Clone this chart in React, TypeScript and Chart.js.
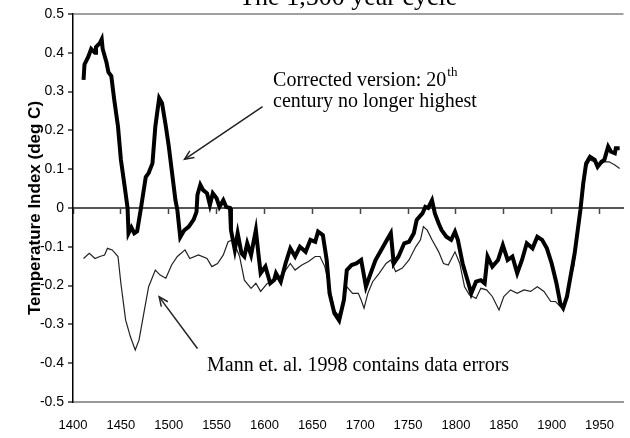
import React, { useEffect, useRef } from "react";
import { Chart, registerables } from "chart.js";

Chart.register(...registerables);

const TITLE = "The 1,500 year cycle";
const Y_TITLE = "Temperature Index (deg C)";
const X_MIN = 1400;
const X_MAX = 1975;
const Y_MIN = -0.5;
const Y_MAX = 0.5;

// Corrected version (thick line)
const correctedYears = [
  1411, 1412, 1416, 1419, 1423, 1424, 1428, 1430, 1431, 1435, 1437, 1440, 1443, 1447, 1450, 1454, 1457,
  1458, 1461, 1464, 1467, 1469, 1471, 1476, 1479, 1483, 1486, 1490, 1493, 1497, 1500, 1503, 1507, 1509,
  1512, 1516, 1521, 1526, 1529, 1530, 1533, 1536, 1540, 1543, 1546, 1550, 1553, 1557, 1560, 1564, 1565,
  1569, 1572, 1576, 1579, 1582, 1586, 1591, 1594, 1596, 1601, 1606, 1610, 1612, 1617, 1622, 1627, 1632,
  1637, 1643, 1648, 1653, 1656, 1661, 1665, 1668, 1673, 1678, 1683, 1686, 1691, 1696, 1701, 1706, 1711,
  1716, 1722, 1728, 1732, 1735, 1740, 1746, 1751, 1756, 1759, 1765, 1768, 1771, 1775, 1778, 1782, 1785,
  1790, 1795, 1799, 1802, 1807, 1813, 1816, 1821, 1826, 1830, 1833, 1838, 1844, 1849, 1854, 1859, 1864,
  1869, 1874, 1880, 1885, 1890, 1895, 1900, 1905, 1909, 1912, 1916, 1919, 1924, 1930, 1933, 1936, 1940,
  1945, 1948, 1952, 1955, 1959, 1962, 1966, 1967, 1971,
];
const correctedValues = [
  0.33, 0.37, 0.39, 0.41, 0.4, 0.415, 0.425, 0.435, 0.41, 0.375, 0.35, 0.34, 0.28, 0.21, 0.125, 0.055, 0.0,
  -0.065, -0.05, -0.065, -0.06, -0.03, 0.0, 0.08, 0.09, 0.115, 0.21, 0.283, 0.27, 0.21, 0.16, 0.1, 0.02, -0.005,
  -0.075, -0.058, -0.048, -0.03, -0.01, 0.034, 0.06, 0.046, 0.038, 0.008, 0.038, 0.025, 0.003, 0.02, 0.003, 0.0, -0.057,
  -0.108, -0.065, -0.117, -0.125, -0.091, -0.121, -0.057, -0.125, -0.168, -0.151, -0.194, -0.186, -0.168, -0.19, -0.143, -0.104, -0.125,
  -0.1, -0.113, -0.082, -0.087, -0.061, -0.07, -0.134, -0.22, -0.271, -0.29, -0.237, -0.16, -0.147, -0.143, -0.134, -0.203, -0.168,
  -0.134, -0.108, -0.082, -0.065, -0.143, -0.125, -0.091, -0.087, -0.065, -0.031, -0.014, 0.003, 0.0, 0.02, -0.014, -0.04, -0.057,
  -0.074, -0.082, -0.061, -0.082, -0.143, -0.194, -0.22, -0.19, -0.186, -0.194, -0.125, -0.151, -0.134, -0.096, -0.134, -0.125, -0.168,
  -0.134, -0.091, -0.104, -0.074, -0.082, -0.104, -0.143, -0.194, -0.246, -0.258, -0.228, -0.186, -0.117, -0.005, 0.064, 0.115, 0.132,
  0.124, 0.106, 0.119, 0.124, 0.158, 0.145, 0.141, 0.154, 0.154,
];

// Mann et. al. 1998 (thin line)
const mannYears = [
  1411, 1417, 1423, 1428, 1433, 1436, 1441, 1447, 1450, 1455, 1460, 1465, 1469, 1474, 1479, 1486, 1491,
  1497, 1503, 1509, 1517, 1522, 1531, 1540, 1545, 1551, 1557, 1562, 1567, 1574, 1579, 1586, 1591, 1596,
  1603, 1607, 1613, 1620, 1627, 1632, 1639, 1646, 1653, 1658, 1663, 1668, 1673, 1677, 1681, 1686, 1692,
  1698, 1701, 1704, 1708, 1713, 1720, 1727, 1732, 1737, 1744, 1751, 1758, 1763, 1766, 1770, 1775, 1782,
  1787, 1792, 1799, 1804, 1809, 1814, 1821, 1826, 1832, 1838, 1845, 1850, 1857, 1864, 1871, 1878, 1885,
  1892, 1899, 1904, 1909, 1912, 1917, 1923, 1928, 1933, 1936, 1940, 1945, 1950, 1955, 1960, 1966, 1971,
];
const mannValues = [
  -0.13, -0.117, -0.13, -0.125, -0.121, -0.104, -0.108, -0.125, -0.194, -0.289, -0.332, -0.366, -0.34, -0.271, -0.203, -0.16, -0.173,
  -0.181, -0.147, -0.125, -0.108, -0.13, -0.121, -0.13, -0.151, -0.143, -0.121, -0.087, -0.082, -0.125, -0.186, -0.207, -0.194, -0.215,
  -0.194, -0.194, -0.183, -0.168, -0.143, -0.16, -0.147, -0.138, -0.125, -0.125, -0.151, -0.203, -0.263, -0.276, -0.258, -0.203, -0.22,
  -0.22, -0.237, -0.258, -0.22, -0.19, -0.168, -0.143, -0.134, -0.164, -0.155, -0.134, -0.1, -0.082, -0.048, -0.057, -0.082, -0.113,
  -0.143, -0.147, -0.113, -0.143, -0.203, -0.224, -0.233, -0.207, -0.211, -0.228, -0.263, -0.228, -0.211, -0.22, -0.211, -0.215, -0.203,
  -0.215, -0.241, -0.241, -0.254, -0.258, -0.211, -0.151, -0.048, 0.046, 0.106, 0.124, 0.119, 0.111, 0.119, 0.119, 0.111, 0.102,
];

// Annotation anchors, in data units (year, temperature index)
const correctedNote = { year: 1609, value: 0.314, line1: "Corrected version: 20", sup: "th", line2: "century no longer highest" };
const correctedArrow = { fromYear: 1598, fromValue: 0.261, toYear: 1516.5, toValue: 0.1255 };
const mannNote = { year: 1540, value: -0.42, text: "Mann et. al. 1998 contains data errors" };
const mannArrow = { fromYear: 1530, fromValue: -0.362, toYear: 1490, toValue: -0.229 };

const SERIF = '"Liberation Serif", "Times New Roman", serif';
const SANS = '"Liberation Sans", Arial, sans-serif';

function drawArrow(ctx: CanvasRenderingContext2D, x1: number, y1: number, x2: number, y2: number) {
  ctx.beginPath();
  ctx.moveTo(x1, y1);
  ctx.lineTo(x2, y2);
  ctx.stroke();
  const a = Math.atan2(y2 - y1, x2 - x1);
  const L = 10;
  const w = 0.42;
  ctx.beginPath();
  ctx.moveTo(x2 - L * Math.cos(a - w), y2 - L * Math.sin(a - w));
  ctx.lineTo(x2, y2);
  ctx.lineTo(x2 - L * Math.cos(a + w), y2 - L * Math.sin(a + w));
  ctx.stroke();
}

const overlayPlugin = {
  id: "overlay",
  afterDraw(chart: any) {
    const { ctx, chartArea, scales } = chart;
    const xs = scales.x;
    const ys = scales.y;
    ctx.save();
    ctx.fillStyle = "#000";
    ctx.textBaseline = "alphabetic";

    // title (cropped at the top as in the source)
    ctx.font = `26px ${SERIF}`;
    ctx.textAlign = "center";
    ctx.fillText(TITLE, (chartArea.left + chartArea.right) / 2, chartArea.top - 9);

    // arrows
    ctx.strokeStyle = "#222";
    ctx.lineWidth = 1.5;
    drawArrow(
      ctx,
      xs.getPixelForValue(correctedArrow.fromYear),
      ys.getPixelForValue(correctedArrow.fromValue),
      xs.getPixelForValue(correctedArrow.toYear),
      ys.getPixelForValue(correctedArrow.toValue)
    );
    drawArrow(
      ctx,
      xs.getPixelForValue(mannArrow.fromYear),
      ys.getPixelForValue(mannArrow.fromValue),
      xs.getPixelForValue(mannArrow.toYear),
      ys.getPixelForValue(mannArrow.toValue)
    );

    // corrected note
    ctx.textAlign = "left";
    const cx = xs.getPixelForValue(correctedNote.year);
    const cy = ys.getPixelForValue(correctedNote.value);
    ctx.font = `20px ${SERIF}`;
    ctx.fillText(correctedNote.line1, cx, cy);
    const w1 = ctx.measureText(correctedNote.line1).width;
    ctx.fillText(correctedNote.line2, cx, cy + 21);
    ctx.font = `13px ${SERIF}`;
    ctx.fillText(correctedNote.sup, cx + w1 + 1, cy - 10);

    // mann note
    ctx.font = `20px ${SERIF}`;
    ctx.fillText(mannNote.text, xs.getPixelForValue(mannNote.year), ys.getPixelForValue(mannNote.value));
    ctx.restore();
  },
};

export default function App() {
  const canvasRef = useRef<HTMLCanvasElement | null>(null);

  useEffect(() => {
    const canvas = canvasRef.current;
    if (!canvas) return;
    const chart = new Chart(canvas, {
      type: "line",
      data: {
        datasets: [
          {
            label: "Corrected version",
            data: correctedYears.map((yr, i) => ({ x: yr, y: correctedValues[i] })),
            borderColor: "#000",
            borderWidth: 4,
            pointRadius: 0,
            tension: 0,
            fill: false,
            xAxisID: "x",
            yAxisID: "y",
          },
          {
            label: "Mann et. al. 1998",
            data: mannYears.map((yr, i) => ({ x: yr, y: mannValues[i] })),
            borderColor: "#222",
            borderWidth: 1.2,
            pointRadius: 0,
            tension: 0,
            fill: false,
            xAxisID: "x",
            yAxisID: "y",
          },
        ],
      },
      options: {
        responsive: false,
        animation: false,
        layout: { padding: { top: 14, right: 0, bottom: 0, left: 0 } },
        plugins: {
          legend: { display: false },
          title: { display: false },
          tooltip: { enabled: false },
        },
        scales: {
          x: {
            type: "linear",
            position: "bottom",
            min: X_MIN,
            max: X_MAX,
            ticks: {
              stepSize: 50,
              includeBounds: false,
              padding: 16,
              color: "#000",
              font: { family: SANS, size: 13 },
              callback: (v: any) => String(v),
              maxRotation: 0,
              autoSkip: false,
            },
            grid: { drawOnChartArea: false, drawTicks: false },
            border: { display: true, color: "#9a9a9a", width: 2 },
            afterFit: (s: any) => {
              s.height = 36;
            },
          },
          x0: {
            type: "linear",
            position: { y: 0 } as any,
            min: X_MIN,
            max: X_MAX,
            ticks: { stepSize: 50, includeBounds: false, display: false },
            grid: {
              drawOnChartArea: false,
              drawTicks: true,
              tickLength: 5,
              tickColor: "#444",
              tickWidth: 1.5,
            },
            border: { display: true, color: "#555", width: 2 },
          },
          y: {
            type: "linear",
            position: "left",
            min: Y_MIN,
            max: Y_MAX,
            ticks: {
              stepSize: 0.1,
              padding: 4,
              color: "#000",
              font: { family: SANS, size: 14 },
            },
            grid: {
              drawOnChartArea: true,
              drawTicks: true,
              tickLength: 5,
              tickColor: "#000",
              tickWidth: 1.2,
              color: (c: any) => (c.tick && Math.abs(c.tick.value - Y_MAX) < 1e-6 ? "#a0a0a0" : "rgba(0,0,0,0)"),
              lineWidth: 2,
            },
            border: { display: true, color: "#000", width: 1.5 },
            title: {
              display: true,
              text: Y_TITLE,
              color: "#000",
              font: { family: SANS, size: 17, weight: "bold" },
              padding: { top: 25, bottom: 0 },
            },
            afterFit: (s: any) => {
              s.width = 73;
            },
          },
        },
      },
      plugins: [overlayPlugin],
    });
    return () => chart.destroy();
  }, []);

  return (
    <div style={{ position: "fixed", left: 0, top: 0, width: 630, height: 438, background: "#fff" }}>
      <canvas ref={canvasRef} width={630} height={438} style={{ display: "block", width: 630, height: 438 }} />
    </div>
  );
}
